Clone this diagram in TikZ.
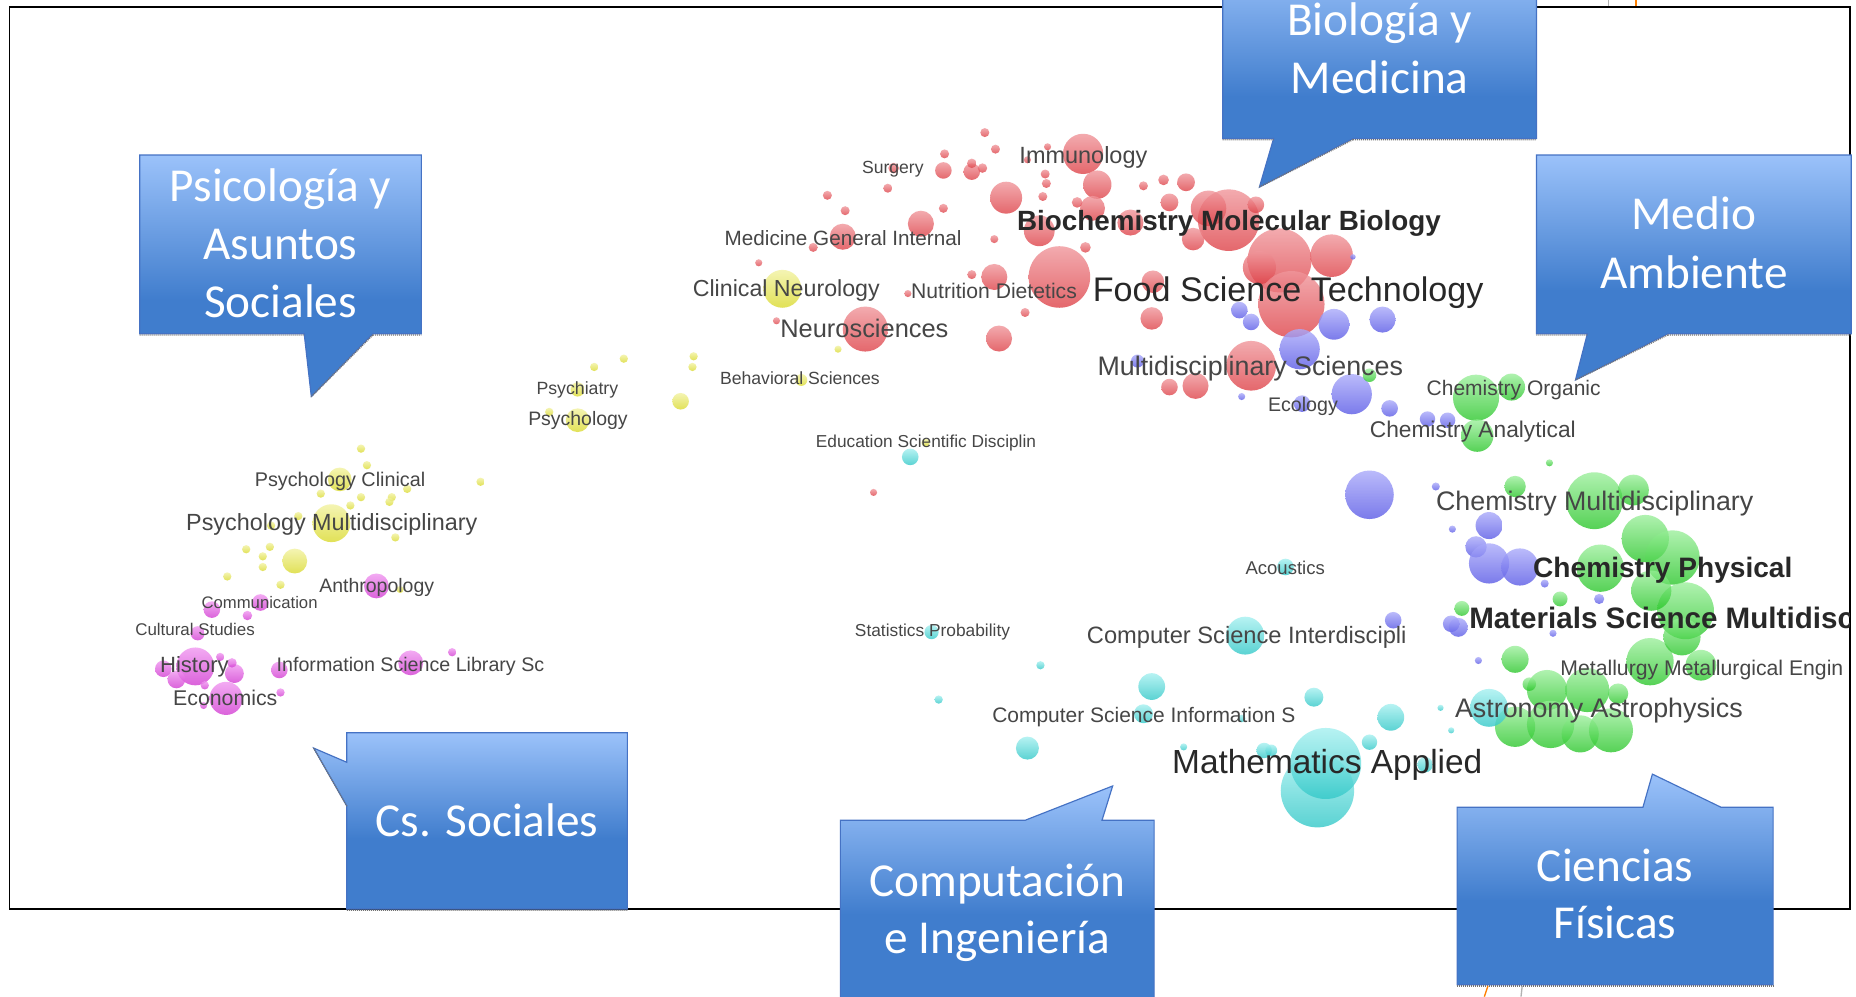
\documentclass[tikz,border=0pt]{standalone}
\usepackage{fontspec}
\usepackage{graphicx}
\newfontfamily\labfont{Liberation Sans}
\newfontfamily\calfont{Carlito}
\newlength\pxu \setlength\pxu{0.025cm}
\definecolor{redT}{RGB}{240,150,155}
\definecolor{redB}{RGB}{222,66,72}
\definecolor{yelT}{RGB}{242,242,160}
\definecolor{yelB}{RGB}{218,218,45}
\definecolor{magT}{RGB}{240,150,240}
\definecolor{magB}{RGB}{210,60,210}
\definecolor{bluT}{RGB}{170,170,250}
\definecolor{bluB}{RGB}{90,90,230}
\definecolor{greT}{RGB}{150,238,150}
\definecolor{greB}{RGB}{30,195,30}
\definecolor{cyaT}{RGB}{165,240,240}
\definecolor{cyaB}{RGB}{50,200,200}
\definecolor{clight}{RGB}{155,194,250}
\definecolor{cdark}{RGB}{64,125,205}
\definecolor{cborder}{RGB}{69,114,196}
\definecolor{labgray}{RGB}{70,70,70}
\definecolor{labdark}{RGB}{40,40,40}
\pgfdeclareverticalshading{calloutshade}{100bp}{color(0bp)=(cdark); color(25bp)=(cdark); color(45bp)=(cdark); color(75bp)=(clight); color(100bp)=(clight)}
\newcommand\bub[4]{\path[#1] (#2,-#3) circle[radius=#4];}
\tikzset{
  rb/.style={top color=redT, bottom color=redB, opacity=0.8},
  yb/.style={top color=yelT, bottom color=yelB, opacity=0.8},
  mb/.style={top color=magT, bottom color=magB, opacity=0.8},
  bb/.style={top color=bluT, bottom color=bluB, opacity=0.8},
  gb/.style={top color=greT, bottom color=greB, opacity=0.75},
  cb/.style={top color=cyaT, bottom color=cyaB, opacity=0.8},
  lab/.style={anchor=base west, inner sep=0pt, text=labgray, font=\labfont\fontsize{10}{12}\selectfont},
  labdark/.style={lab, text=labdark},
  labbold/.style={lab, text=labdark, font=\labfont\bfseries\fontsize{10}{12}\selectfont},
  callout/.style={shading=calloutshade, draw=cborder, line width=0.7pt, line join=miter},
  ctext/.style={anchor=base, inner sep=0pt, text=white, font=\calfont\fontsize{28.4}{34}\selectfont},
  cshadow/.style={draw=black!55, line width=0.8pt, dash pattern=on 0.6pt off 0.6pt},
  frame/.style={draw=black, line width=1pt},
  artline/.style={line width=0.8pt},
}
\begin{document}
\begin{tikzpicture}[x=0.025cm, y=0.025cm]
\useasboundingbox (0,0) rectangle (1568,-842);
\clip (0,0) rectangle (1568,-842);
\fill[white] (0,0) rectangle (1568,-842);
\draw[frame] (8,-6) rectangle (1563,-768);
\begin{scope}
\clip (8.5,-6.5) rectangle (1562.5,-767.5);
% red
\bub{rb}{832}{112}{3.8}
\bub{rb}{798}{130}{3.8}
\bub{rb}{841}{126}{3.8}
\bub{rb}{885}{124}{3}
\bub{rb}{915}{130}{17}
\bub{rb}{868}{135}{3}
\bub{rb}{797}{144}{7}
\bub{rb}{821}{145}{7}
\bub{rb}{821}{138}{4}
\bub{rb}{830}{142}{4}
\bub{rb}{755}{142}{4.5}
\bub{rb}{750}{159}{3.8}
\bub{rb}{699}{165}{3.8}
\bub{rb}{714}{178}{3.8}
\bub{rb}{797}{176}{3.8}
\bub{rb}{778}{189}{11}
\bub{rb}{712}{200}{11}
\bub{rb}{687}{209}{3.8}
\bub{rb}{840}{202}{3.4}
\bub{rb}{850}{167}{13.5}
\bub{rb}{883}{147}{3.8}
\bub{rb}{884}{155}{3.8}
\bub{rb}{881}{166}{3.8}
\bub{rb}{927}{156}{12}
\bub{rb}{923}{176}{10.5}
\bub{rb}{910}{171}{4.5}
\bub{rb}{878}{195}{13}
\bub{rb}{955}{188}{11}
\bub{rb}{966}{157}{3.8}
\bub{rb}{983}{152}{4.5}
\bub{rb}{1002}{154}{7.5}
\bub{rb}{988}{171}{7.5}
\bub{rb}{1038}{186}{26}
\bub{rb}{1021}{176}{15}
\bub{rb}{1061}{173}{7}
\bub{rb}{1008}{202}{9.5}
\bub{rb}{1081}{220}{27}
\bub{rb}{1125}{216}{18}
\bub{rb}{1064}{226}{14}
\bub{rb}{1091}{257}{28}
\bub{rb}{895}{234}{26}
\bub{rb}{840}{234}{11}
\bub{rb}{821}{232}{3.8}
\bub{rb}{917}{209}{4.5}
\bub{rb}{974}{238}{9.5}
\bub{rb}{973}{269}{9.5}
\bub{rb}{866}{264}{3.8}
\bub{rb}{844}{286}{11}
\bub{rb}{731}{278}{19}
\bub{rb}{767}{248}{3}
\bub{rb}{1057}{309}{21}
\bub{rb}{1010}{326}{11}
\bub{rb}{988}{327}{7}
\bub{rb}{641}{222}{3}
\bub{rb}{656}{271}{3}
\bub{rb}{738}{416}{3}
% yellow
\bub{yb}{661}{244}{16}
\bub{yb}{586}{301}{3.5}
\bub{yb}{585}{310}{3.5}
\bub{yb}{575}{339}{7}
\bub{yb}{708}{295}{3}
\bub{yb}{677}{321}{5}
\bub{yb}{782}{374}{3.5}
\bub{yb}{527}{303}{3.5}
\bub{yb}{502}{310}{3.5}
\bub{yb}{488}{329}{6}
\bub{yb}{488}{355}{10}
\bub{yb}{464}{348}{3.5}
\bub{yb}{305}{379}{3.5}
\bub{yb}{310}{393}{3.5}
\bub{yb}{287}{405}{10}
\bub{yb}{406}{407}{3.5}
\bub{yb}{271}{417}{3.5}
\bub{yb}{305}{420}{3.5}
\bub{yb}{331}{420}{3.5}
\bub{yb}{329}{424}{3.5}
\bub{yb}{344}{413}{3.5}
\bub{yb}{296}{427}{3.5}
\bub{yb}{280}{442}{16}
\bub{yb}{252}{436}{3.5}
\bub{yb}{229}{444}{3.5}
\bub{yb}{334}{454}{3.5}
\bub{yb}{208}{464}{3.5}
\bub{yb}{228}{462}{3.5}
\bub{yb}{222}{470}{3.5}
\bub{yb}{222}{479}{3.5}
\bub{yb}{249}{474}{10.5}
\bub{yb}{192}{487}{3.5}
\bub{yb}{237}{494}{3.5}
\bub{yb}{338}{498}{3}
% magenta
\bub{mb}{318}{495}{10.5}
\bub{mb}{220}{509}{7}
\bub{mb}{179}{515}{7}
\bub{mb}{209}{520}{4}
\bub{mb}{167}{535}{6}
\bub{mb}{165}{563}{16}
\bub{mb}{138}{565}{7}
\bub{mb}{149}{574}{7.5}
\bub{mb}{186}{555}{3.5}
\bub{mb}{198}{569}{8}
\bub{mb}{196}{560}{4}
\bub{mb}{173}{579}{3.5}
\bub{mb}{191}{590}{14}
\bub{mb}{172}{596}{3}
\bub{mb}{237}{585}{3.5}
\bub{mb}{236}{566}{7}
\bub{mb}{347}{560}{10.5}
\bub{mb}{382}{551}{3.5}
% blue
\bub{bb}{1047}{262}{7}
\bub{bb}{1057}{272}{7}
\bub{bb}{1127}{274}{13}
\bub{bb}{1168}{270}{11}
\bub{bb}{1098}{295}{17}
\bub{bb}{1142}{333}{17}
\bub{bb}{1100}{341}{7}
\bub{bb}{1174}{345}{7}
\bub{bb}{1143}{217}{2.3}
\bub{bb}{961}{305}{5.5}
\bub{bb}{1049}{335}{3}
\bub{bb}{1206}{354}{6.5}
\bub{bb}{1223}{355}{6.5}
\bub{bb}{1157}{418}{20.5}
\bub{bb}{1213}{411}{3.4}
\bub{bb}{1258}{444}{11.4}
\bub{bb}{1227}{447}{3}
\bub{bb}{1247}{462}{9}
\bub{bb}{1258}{476}{17}
\bub{bb}{1284}{479}{15.7}
\bub{bb}{1305}{493}{3.4}
\bub{bb}{1351}{506}{4.3}
\bub{bb}{1226}{527}{7}
\bub{bb}{1232}{530}{8}
\bub{bb}{1177}{524}{7}
\bub{bb}{1312}{535}{3}
\bub{bb}{1249}{558}{3}
% green
\bub{gb}{1157}{317}{5.7}
\bub{gb}{1247}{336}{19.5}
\bub{gb}{1277}{327}{11.4}
\bub{gb}{1248}{368}{13.7}
\bub{gb}{1309}{391}{3}
\bub{gb}{1280}{411}{9}
\bub{gb}{1347}{423}{24}
\bub{gb}{1380}{414}{13}
\bub{gb}{1390}{455}{20}
\bub{gb}{1413}{471}{23}
\bub{gb}{1352}{480}{20}
\bub{gb}{1424}{516}{24}
\bub{gb}{1395}{499}{17}
\bub{gb}{1318}{506}{6.3}
\bub{gb}{1235}{514}{6.3}
\bub{gb}{1280}{557}{11.4}
\bub{gb}{1394}{559}{20}
\bub{gb}{1437}{562}{13}
\bub{gb}{1421}{538}{15.7}
\bub{gb}{1307}{583}{17}
\bub{gb}{1341}{583}{18.6}
\bub{gb}{1292}{578}{5.7}
\bub{gb}{1367}{586}{8.6}
\bub{gb}{1280}{614}{17}
\bub{gb}{1310}{612}{20}
\bub{gb}{1361}{617}{18.6}
\bub{gb}{1335}{620}{15.7}
% cyan
\bub{cb}{769}{386}{7}
\bub{cb}{1086}{479}{7}
\bub{cb}{787}{534}{6}
\bub{cb}{879}{562}{3.5}
\bub{cb}{793}{591}{3.5}
\bub{cb}{1052}{537}{16}
\bub{cb}{973}{580}{11.3}
\bub{cb}{966}{603}{8}
\bub{cb}{1110}{589}{8}
\bub{cb}{1175}{606}{11.3}
\bub{cb}{1157}{627}{6.5}
\bub{cb}{868}{632}{9.7}
\bub{cb}{1049}{607}{3.2}
\bub{cb}{1113}{668}{31}
\bub{cb}{1120}{645}{30}
\bub{cb}{1068}{634}{6.5}
\bub{cb}{1074}{634}{5}
\bub{cb}{1000}{631}{3}
\bub{cb}{1204}{646}{6.5}
\bub{cb}{1226}{617}{2.6}
\bub{cb}{1217}{598}{2.6}
\bub{cb}{1258}{598}{16}
% labels
\node[lab] (psychiatry) at (453,-333) {\resizebox{69\pxu}{!}{Psychiatry}};
\node[lab] (psychology) at (446,-359.5) {\resizebox{84\pxu}{!}{Psychology}};
\node[lab] (behav) at (608,-325) {\resizebox{135\pxu}{!}{Behavioral Sciences}};
\node[lab] (psyclin) at (215,-411) {\resizebox{144\pxu}{!}{Psychology Clinical}};
\node[lab] (psymulti) at (157,-448) {\resizebox{246\pxu}{!}{Psychology Multidisciplinary}};
\node[lab] (anthro) at (269.5,-500.5) {\resizebox{97\pxu}{!}{Anthropology}};
\node[lab] (commun) at (170,-514) {\resizebox{98\pxu}{!}{Communication}};
\node[lab] (cultural) at (114,-537) {\resizebox{101\pxu}{!}{Cultural Studies}};
\node[lab] (history) at (135,-568) {\resizebox{58\pxu}{!}{History}};
\node[lab] (infosci) at (233.5,-567) {\resizebox{226\pxu}{!}{Information Science Library Sc}};
\node[lab] (econ) at (146,-596) {\resizebox{88\pxu}{!}{Economics}};
\node[lab] (surgery) at (728,-146.5) {\resizebox{52\pxu}{!}{Surgery}};
\node[lab] (immuno) at (861,-138) {\resizebox{108\pxu}{!}{Immunology}};
\node[lab] (medgen) at (612,-207) {\resizebox{200\pxu}{!}{Medicine General Internal}};
\node[labbold] (biochem) at (859,-194.5) {\resizebox{358\pxu}{!}{Biochemistry Molecular Biology}};
\node[lab] (clinneuro) at (585,-250.5) {\resizebox{158\pxu}{!}{Clinical Neurology}};
\node[lab] (nutri) at (769.5,-252) {\resizebox{140\pxu}{!}{Nutrition Dietetics}};
\node[labdark] (foodsci) at (923,-254.5) {\resizebox{330\pxu}{!}{Food Science Technology}};
\node[lab] (neurosci) at (659,-285) {\resizebox{142\pxu}{!}{Neurosciences}};
\node[lab] (multisci) at (927,-317.5) {\resizebox{258\pxu}{!}{Multidisciplinary Sciences}};
\node[lab] (ecology) at (1071,-347.5) {\resizebox{59\pxu}{!}{Ecology}};
\node[lab] (chemorg) at (1205,-334) {\resizebox{147\pxu}{!}{Chemistry Organic}};
\node[lab] (chemanal) at (1157,-370) {\resizebox{174\pxu}{!}{Chemistry Analytical}};
\node[lab] (educ) at (689,-378) {\resizebox{186\pxu}{!}{Education Scientific Disciplin}};
\node[lab] (chemmulti) at (1213,-431) {\resizebox{268\pxu}{!}{Chemistry Multidisciplinary}};
\node[lab] (acoust) at (1052,-485) {\resizebox{67\pxu}{!}{Acoustics}};
\node[labbold] (chemphys) at (1295,-488) {\resizebox{219\pxu}{!}{Chemistry Physical}};
\node[labbold] (materials) at (1241,-531) {\resizebox{325\pxu}{!}{Materials Science Multidisc}};
\node[lab] (stats) at (722,-538) {\resizebox{131\pxu}{!}{Statistics Probability}};
\node[lab] (csinter) at (918,-543.5) {\resizebox{270\pxu}{!}{Computer Science Interdiscipli}};
\node[lab] (metal) at (1318,-570.6) {\resizebox{239\pxu}{!}{Metallurgy Metallurgical Engin}};
\node[lab] (csinfo) at (838,-610) {\resizebox{256\pxu}{!}{Computer Science Information S}};
\node[lab] (astro) at (1229,-606) {\resizebox{243\pxu}{!}{Astronomy Astrophysics}};
\node[labdark] (math) at (990,-653.3) {\resizebox{262\pxu}{!}{Mathematics Applied}};
\end{scope}
% callouts
\shadedraw[callout] (118,-131) -- (356,-131) -- (356,-282) -- (315,-282) -- (263,-335) -- (257,-282) -- (118,-282) -- cycle;
\draw[cshadow] (118,-283) -- (257,-283) (315,-283) -- (356,-283) (263,-335) -- (315,-283);
\node[ctext] (psicA) at (237,-170.6) {Psicología y};
\node[ctext] (psicB) at (237,-219.4) {Asuntos};
\node[ctext] (psicC) at (237,-268) {Sociales};
\shadedraw[callout] (1033,33) -- (1298,33) -- (1298,-117) -- (1143,-117) -- (1064,-158) -- (1076,-117) -- (1033,-117) -- cycle;
\draw[cshadow] (1033,-118) -- (1076,-118) (1143,-118) -- (1298,-118) (1064,-158) -- (1143,-118);
\node[ctext] (bioA) at (1165.5,-29.6) {Biología y};
\node[ctext] (bioB) at (1165.5,-78.8) {Medicina};
\shadedraw[callout] (1298,-131) -- (1564,-131) -- (1564,-282) -- (1409,-282) -- (1331,-321) -- (1341,-282) -- (1298,-282) -- cycle;
\draw[cshadow] (1298,-283) -- (1341,-283) (1409,-283) -- (1564,-283) (1331,-321) -- (1409,-283);
\node[ctext] (medA) at (1431,-194) {Medio};
\node[ctext] (medB) at (1431,-243.5) {Ambiente};
\shadedraw[callout] (293,-619) -- (530,-619) -- (530,-768) -- (293,-768) -- (293,-681) -- (265,-632) -- (293,-644) -- cycle;
\draw[cshadow] (293,-769) -- (530,-769) (265,-632) -- (293,-681);
\node[ctext] (csA) at (411.5,-707) {Cs. Sociales};
\shadedraw[callout] (710,-693) -- (866,-693) -- (940,-664) -- (931,-693) -- (975,-693) -- (975,-845) -- (710,-845) -- cycle;
\node[ctext] (compA) at (842.5,-757.2) {Computación};
\node[ctext] (compB) at (842.5,-805.9) {e Ingeniería};
\shadedraw[callout] (1231,-682) -- (1388,-682) -- (1396,-654) -- (1454,-682) -- (1498,-682) -- (1498,-832) -- (1231,-832) -- cycle;
\draw[cshadow] (1231,-833) -- (1498,-833);
\node[ctext] (cienA) at (1364.5,-745) {Ciencias};
\node[ctext] (cienB) at (1364.5,-793) {Físicas};
% stray marks at the edges
\draw[artline, gray!60] (1359,0) -- (1359,-5);
\draw[artline, orange] (1382,0) -- (1382,-5);
\draw[artline, orange] (1257,-833) -- (1254,-842);
\draw[artline, gray!60] (1286,-833) -- (1285,-842);
\end{tikzpicture}
\end{document}
